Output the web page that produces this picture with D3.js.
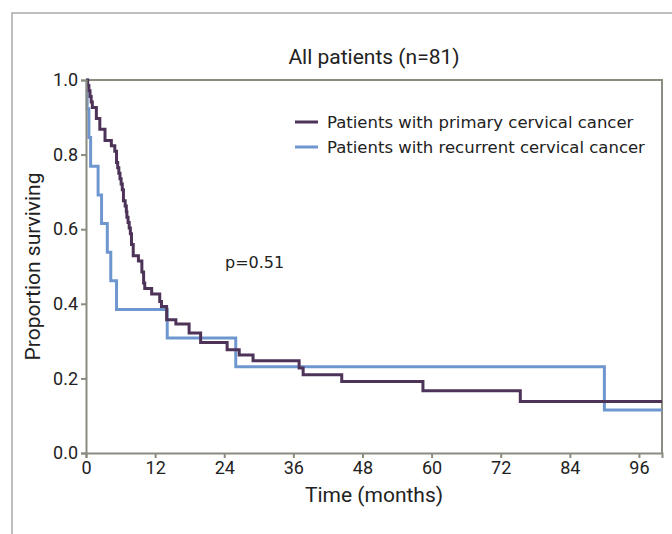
<!DOCTYPE html>
<html lang="en">
<head>
<meta charset="UTF-8"/>
<title>All patients KM</title>
<script src="https://cdn.jsdelivr.net/npm/d3@7"></script>
<style>
  body { margin: 0; background: #fff; }
  .cond { font-family: Roboto, "Liberation Sans", sans-serif; fill: #222; }
  .wide { font-family: "DejaVu Sans", Verdana, sans-serif; fill: #222; }
</style>
</head>
<body>
<script>
// Kaplan-Meier steps (time in months, proportion surviving after the step)
var primaryTimes = [0, 0.3, 0.5, 0.7, 0.9, 1.1, 1.8, 2.4, 3.3, 4.4, 5.0, 5.3, 5.5, 5.7, 5.9, 6.1, 6.3, 6.5, 6.8, 7.0, 7.1, 7.3, 7.5, 7.7, 7.9, 8.2, 9.1, 9.7, 10.0, 10.2, 11.4, 12.8, 13.1, 14.0, 15.6, 17.9, 19.9, 24.5, 26.6, 29.0, 37.0, 37.7, 44.4, 58.5, 75.4, 100];
var primarySurv  = [1, 0.985, 0.971, 0.956, 0.941, 0.926, 0.897, 0.868, 0.838, 0.824, 0.809, 0.779, 0.765, 0.75, 0.735, 0.721, 0.706, 0.676, 0.662, 0.647, 0.632, 0.618, 0.603, 0.588, 0.559, 0.529, 0.515, 0.485, 0.456, 0.441, 0.426, 0.406, 0.393, 0.357, 0.346, 0.322, 0.296, 0.277, 0.263, 0.247, 0.228, 0.21, 0.192, 0.167, 0.138, 0.138];

var recurrentTimes = [0, 0.2, 0.5, 0.8, 2.1, 2.7, 3.7, 4.3, 5.3, 14.1, 26.0, 90.0, 100];
var recurrentSurv  = [1, 0.923, 0.846, 0.769, 0.692, 0.615, 0.538, 0.462, 0.385, 0.308, 0.231, 0.115, 0.115];

var xTicks = [0, 12, 24, 36, 48, 60, 72, 84, 96];
var yTicks = [0, 0.2, 0.4, 0.6, 0.8, 1.0];

var seriesNames = ["Patients with primary cervical cancer", "Patients with recurrent cervical cancer"];
var seriesColors = ["#4d3358", "#6f97cf"];

var w = 672, h = 534;
var plotLeft = 86, plotRight = 662, plotTop = 80, plotBottom = 453;

var svg = d3.select("body").append("svg")
  .attr("width", w)
  .attr("height", h);

// outer panel frame
svg.append("path")
  .attr("d", "M12,534 L12,13 L672,13")
  .attr("fill", "none")
  .attr("stroke", "#ababab")
  .attr("stroke-width", 1.5);

var xScale = d3.scaleLinear().domain([0, 100]).range([plotLeft, plotRight]);
var yScale = d3.scaleLinear().domain([0, 1]).range([plotBottom, plotTop]);

// plot frame (top + right)
svg.append("path")
  .attr("d", "M" + plotLeft + "," + plotTop + " L" + plotRight + "," + plotTop + " L" + plotRight + "," + plotBottom)
  .attr("fill", "none")
  .attr("stroke", "#8b8b80")
  .attr("stroke-width", 2);

var line = d3.line()
  .x(function(d) { return xScale(d[0]); })
  .y(function(d) { return yScale(d[1]); })
  .curve(d3.curveStepAfter);

var series = [
  d3.zip(primaryTimes, primarySurv),
  d3.zip(recurrentTimes, recurrentSurv)
];

// blue drawn first so purple sits on top
[1, 0].forEach(function(i) {
  svg.append("path")
    .datum(series[i])
    .attr("d", line)
    .attr("fill", "none")
    .attr("stroke", seriesColors[i])
    .attr("stroke-width", 3);
});

// axes
var xAxis = svg.append("g")
  .attr("transform", "translate(0," + plotBottom + ")")
  .call(d3.axisBottom(xScale).tickValues(xTicks).tickSize(5).tickPadding(3));

var yAxis = svg.append("g")
  .attr("transform", "translate(" + plotLeft + ",0)")
  .call(d3.axisLeft(yScale).tickValues(yTicks).tickSize(5).tickPadding(3)
    .tickFormat(d3.format(".1f")));

[xAxis, yAxis].forEach(function(ax) {
  ax.select(".domain").attr("stroke", "#8b8b80").attr("stroke-width", 2);
  ax.selectAll(".tick line").attr("stroke", "#8b8b80").attr("stroke-width", 2);
  ax.selectAll(".tick text")
    .attr("class", "cond")
    .attr("font-size", 18)
    .attr("fill", "#222");
});

// titles
svg.append("text")
  .attr("class", "cond")
  .attr("x", (plotLeft + plotRight) / 2)
  .attr("y", 64)
  .attr("text-anchor", "middle")
  .attr("font-size", 21)
  .text("All patients (n=81)");

svg.append("text")
  .attr("class", "cond")
  .attr("x", (plotLeft + plotRight) / 2)
  .attr("y", 502)
  .attr("text-anchor", "middle")
  .attr("font-size", 21)
  .text("Time (months)");

svg.append("text")
  .attr("class", "cond")
  .attr("transform", "translate(40," + ((plotTop + plotBottom) / 2) + ") rotate(-90)")
  .attr("text-anchor", "middle")
  .attr("font-size", 21)
  .text("Proportion surviving");

svg.append("text")
  .attr("class", "wide")
  .attr("x", 225)
  .attr("y", 268)
  .attr("font-size", 16)
  .text("p=0.51");

// legend
var legend = svg.selectAll("g.legend")
  .data(seriesNames)
  .enter()
  .append("g")
  .attr("class", "legend")
  .attr("transform", function(d, i) { return "translate(295," + (122 + i * 25) + ")"; });

legend.append("line")
  .attr("x1", 0).attr("x2", 23)
  .attr("y1", 0).attr("y2", 0)
  .attr("stroke", function(d, i) { return seriesColors[i]; })
  .attr("stroke-width", 3);

legend.append("text")
  .attr("class", "wide")
  .attr("x", 32)
  .attr("y", 6)
  .attr("font-size", 16.5)
  .text(function(d) { return d; });
</script>
</body>
</html>
